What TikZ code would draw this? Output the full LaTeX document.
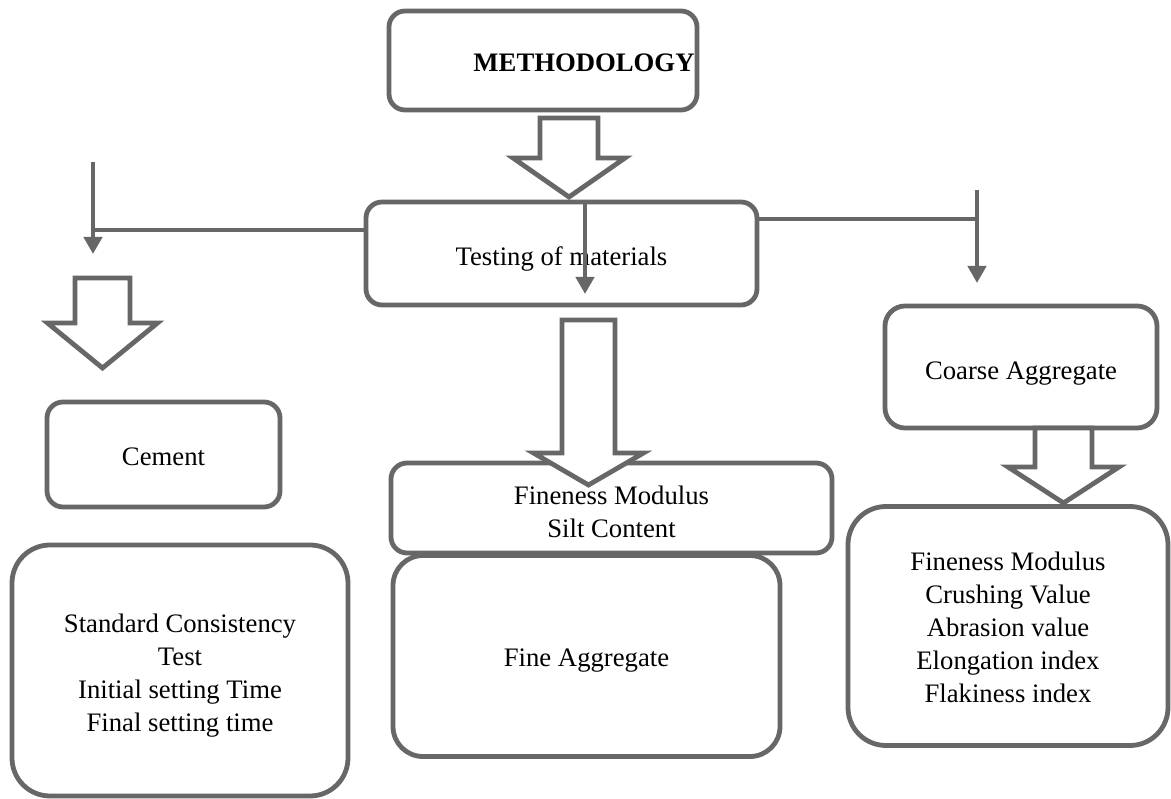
\documentclass[tikz,border=0pt]{standalone}
\usepackage{fontspec}
\setmainfont{Liberation Serif}
\usetikzlibrary{arrows.meta}
\definecolor{edge}{HTML}{676767}
\tikzset{
  box/.style={draw=edge, line width=4.8pt, fill=white, rounded corners=16pt,
    inner sep=0pt},
  bigbox/.style={box, rounded corners=38pt},
  txt/.style={inner sep=0pt, align=center, font=\fontsize{26.7}{33}\selectfont},
  conn/.style={draw=edge, line width=4.8pt},
  tip/.style={conn, -{Triangle[width=18pt,length=17pt]}},
  barrow/.style={draw=edge, line width=4.8pt, fill=white, line join=miter}
}
\newcommand\blockarrow[6]{%
  \draw[barrow] ({#1-#5},#2) -- ({#1+#5},#2) -- ({#1+#5},#3) -- ({#1+#6},#3)
    -- (#1,#4) -- ({#1-#6},#3) -- ({#1-#5},#3) -- cycle;}
\begin{document}
\begin{tikzpicture}[x=1pt,y=-1pt]
\useasboundingbox (0,0) rectangle (1171,799);

% boxes
\node[box, minimum width=308pt, minimum height=99pt] (meth) at (543,60.5) {};
\node[txt] (methT) at ([xshift=41pt,yshift=-2pt]meth.center) {\textbf{METHODOLOGY}};

\node[box, minimum width=391pt, minimum height=103pt] (test) at (561.5,253.5) {};
\node[txt] (testT) at ([yshift=-5pt]test.center) {Testing of materials};

\node[box, minimum width=233pt, minimum height=105pt] (cem) at (163.5,454.5) {};
\node[txt] (cemT) at ([yshift=-2pt]cem.center) {Cement};

\node[bigbox, minimum width=336pt, minimum height=251pt] (cemt) at (180,670.5) {};
\node[txt] (cemtT) at ([yshift=-5pt]cemt.center)
  {Standard Consistency\\Test\\Initial setting Time\\Final setting time};

\node[bigbox, rounded corners=30pt, minimum width=387pt, minimum height=201pt] (fine) at (586.5,656) {};
\node[txt] (fineT) at ([yshift=-5pt]fine.center) {Fine Aggregate};

\node[box, minimum width=441pt, minimum height=90pt] (fms) at (611.5,508) {};
\node[txt] (fmsT) at ([yshift=-3.5pt]fms.center) {Fineness Modulus\\Silt Content};

\node[box, rounded corners=20pt, minimum width=272pt, minimum height=122pt] (coarse) at (1021,367) {};
\node[txt] (coarseT) at ([yshift=-7pt]coarse.center) {Coarse Aggregate};

\node[bigbox, minimum width=320pt, minimum height=239pt] (ct) at (1008,626) {};
\node[txt] (ctT) at ([yshift=-1.5pt]ct.center)
  {Fineness Modulus\\Crushing Value\\Abrasion value\\Elongation index\\Flakiness index};

% block arrows
\blockarrow{569}{118}{158}{197}{29}{56}
\blockarrow{102.5}{278}{323}{368}{27.5}{55}
\blockarrow{588.5}{320}{453}{485}{26.5}{55}
\blockarrow{1063.5}{428}{467}{503}{28.5}{55.5}

% thin connectors
\coordinate (ljoin) at (93,230);
\coordinate (ltop) at (93,162);
\coordinate (lend) at (93,254);
\draw[conn] (test.west |- ljoin) -- (ljoin);
\draw[tip] (ltop) -- (lend);

\coordinate (rjoin) at (977,219);
\coordinate (rtop) at (977,190);
\coordinate (rend) at (977,283);
\draw[conn] (test.east |- rjoin) -- (rjoin);
\draw[tip] (rtop) -- (rend);

\coordinate (mtop) at (585,203);
\coordinate (mend) at (585,294);
\draw[tip] (mtop) -- (mend);
\end{tikzpicture}
\end{document}
